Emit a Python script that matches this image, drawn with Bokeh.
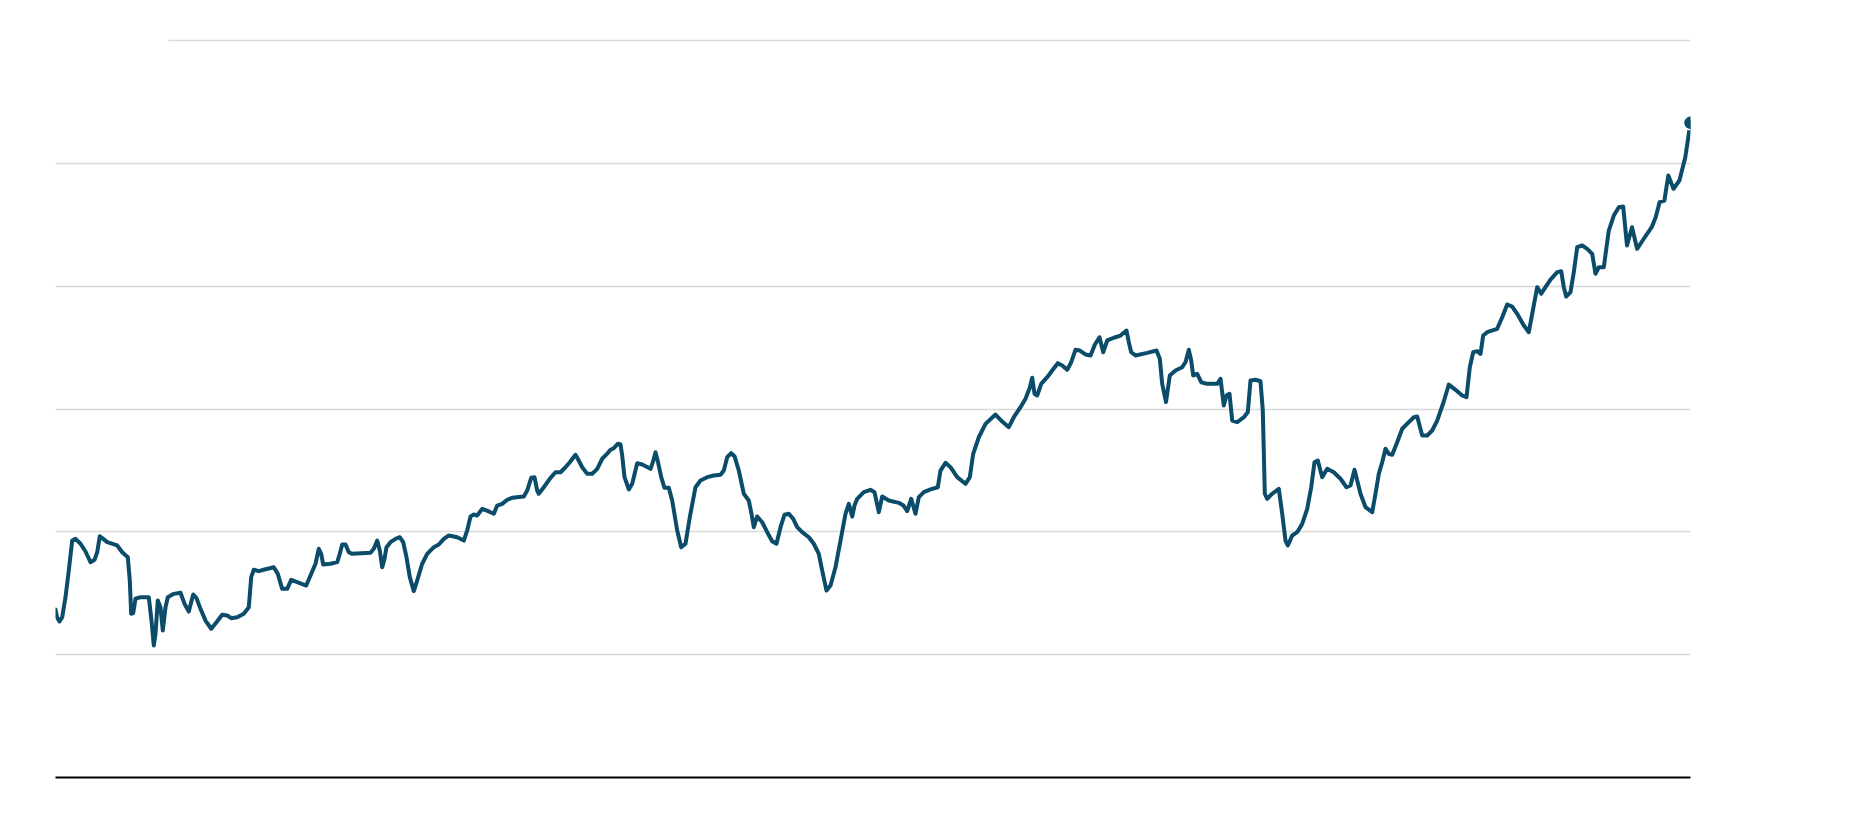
from bokeh.plotting import figure
from bokeh.models import Range1d, FixedTicker, ColumnDataSource
from bokeh.embed import file_html
from bokeh.resources import INLINE

# period index (time axis, no labels shown in the reference)
period = [0, 1.5, 4, 6.7, 10, 13.3, 16.7, 20, 25, 30, 35, 39, 41.7, 44.3, 47.7, 51.7, 61.7, 66.7, 72.3, 74.3,
          75.7, 77.7, 80, 85, 93.3, 96, 98.3, 100, 102.3, 105, 107.3, 110, 112.3, 118.3, 125, 129, 133.3, 137.7, 141, 145,
          150, 155.7, 161, 166.7, 171.7, 175.7, 181.7, 188.3, 193.3, 195.7, 198.3, 203.3, 209, 218.3, 222.3, 226.7, 231.7, 235.7, 241.7, 250.7,
          255, 260, 263.3, 265.7, 267.7, 275, 281.7, 284.3, 286.7, 290, 293.3, 296.7, 315, 318.3, 321.7, 324.3, 326.7, 329, 331, 335,
          340, 344.3, 347.7, 351, 354.3, 358.3, 361.7, 366.7, 371.7, 378.3, 383.3, 388.3, 393.3, 401.7, 408.3, 411.7, 415, 418.3, 421.7, 426.7,
          433.3, 438.3, 441.7, 446.7, 451.7, 456.7, 468.3, 471.7, 475.7, 479, 481.7, 483.3, 488.3, 495, 500, 505, 510, 514.3, 520, 522.3,
          526.7, 531.7, 536.7, 541.7, 546.7, 551, 555, 558.3, 562.3, 565, 566.7, 569, 573.3, 576.7, 581.7, 586.7, 595, 597.7, 600, 602.3,
          605.7, 609, 613.3, 616.7, 621.7, 625.7, 630, 634.3, 640, 645, 651.7, 658.3, 665, 668.3, 671.7, 675.7, 679, 683.3, 688.3, 693.3,
          696, 698.3, 701.7, 706.7, 711.7, 716.7, 721, 725, 729, 733.3, 737.7, 741.7, 746.7, 753.3, 758.3, 763.3, 766.7, 771, 775, 780,
          785, 790, 793.3, 796.7, 799, 801.7, 808.3, 815, 819, 823.3, 826.7, 833.3, 843.3, 848, 851.7, 855.7, 860, 863.3, 868.3, 875,
          882.3, 885, 890, 895, 901.7, 910, 914.3, 917.7, 923.3, 930, 940, 946.7, 953.3, 958.3, 965, 970, 974.3, 976.7, 979, 981.7,
          985.7, 991.7, 996.7, 1002.3, 1006.7, 1011.7, 1015.7, 1020, 1024.3, 1030, 1035, 1039.3, 1044, 1047.7, 1051.7, 1058.3, 1065, 1071, 1073.3, 1075.7,
          1080, 1091.7, 1101, 1104.3, 1106.7, 1110.5, 1114.3, 1120, 1126.7, 1130, 1133.3, 1135.7, 1137.7, 1141.7, 1145.7, 1151.7, 1161.7, 1165, 1168.3, 1171,
          1174, 1176.7, 1181.7, 1188.3, 1192.3, 1195, 1200, 1205, 1207.3, 1209.3, 1211.7, 1216.7, 1223.3, 1226.7, 1230, 1232.3, 1236.7, 1241.7, 1246.7, 1251.7,
          1255.7, 1259, 1262.3, 1266.7, 1271.7, 1278.3, 1285, 1291, 1295, 1299, 1301.7, 1305, 1310, 1316.7, 1320, 1323.3, 1326.7, 1330, 1333.3, 1336.7,
          1341.7, 1346.7, 1353.3, 1358.3, 1361.7, 1366.7, 1371.7, 1376.7, 1381.7, 1388.3, 1393.3, 1400, 1406.7, 1411, 1414.3, 1417.7, 1421.7, 1425, 1427.7, 1431.7,
          1441.7, 1446.7, 1451.7, 1456.7, 1461.7, 1468.3, 1473.3, 1476.7, 1481.7, 1485.7, 1490, 1495, 1501.7, 1505.7, 1508.3, 1510.7, 1515, 1518.3, 1521.7, 1526.7,
          1531.7, 1536.7, 1540, 1543.3, 1548.3, 1551, 1553.3, 1558.3, 1563.3, 1567.7, 1571.5, 1576.5, 1581.6, 1588.3, 1596.2, 1600.2, 1604.1, 1608.9, 1612.8, 1618,
          1623.9, 1629.8, 1633.8, 1635]

values = [136.8, 130.5, 127.0, 130.5, 146.8, 168.5, 192.9, 194.3, 190.3, 184.0, 175.3, 177.2, 183.4, 196.4, 194.3, 191.6, 188.9, 183.4, 179.3, 160.4,
          133.3, 133.8, 145.5, 146.8, 146.8, 127.8, 107.5, 117.0, 144.1, 138.6, 119.7, 138.6, 146.8, 149.5, 150.4, 141.4, 135.1, 149.0, 146.0, 137.3,
          127.8, 121.1, 126.4, 132.5, 131.9, 129.7, 130.5, 133.3, 138.6, 163.1, 169.1, 168.0, 169.3, 171.2, 165.8, 153.6, 153.6, 160.9, 159.0, 156.3,
          164.4, 174.0, 186.2, 182.1, 173.4, 174.0, 175.3, 182.1, 189.7, 189.7, 183.4, 182.1, 182.9, 186.2, 192.9, 184.8, 171.2, 178.0, 187.5, 191.6,
          194.3, 195.6, 191.6, 179.3, 163.1, 151.7, 160.4, 174.0, 182.1, 187.5, 189.7, 194.3, 197.0, 195.6, 192.9, 201.1, 212.5, 214.1, 213.3, 218.7,
          216.6, 214.7, 221.4, 222.8, 226.1, 227.7, 228.8, 233.6, 244.0, 244.5, 233.6, 231.0, 236.3, 244.0, 248.5, 248.5, 252.6, 256.7, 262.7, 259.5,
          252.6, 247.2, 247.2, 251.3, 259.5, 263.0, 266.8, 268.1, 271.7, 271.1, 262.1, 244.5, 234.5, 239.1, 255.9, 254.8, 251.3, 257.5, 264.8, 257.5,
          244.5, 235.8, 235.8, 225.5, 201.1, 187.5, 190.3, 211.9, 236.3, 241.8, 244.5, 245.9, 246.4, 249.9, 260.8, 264.0, 261.6, 249.9, 231.0, 225.5,
          214.7, 203.8, 212.5, 207.8, 199.7, 192.4, 190.3, 203.8, 213.9, 214.7, 210.6, 203.8, 199.7, 195.6, 190.3, 182.1, 168.5, 152.2, 156.3, 171.2,
          192.9, 214.7, 222.8, 212.5, 221.4, 226.9, 232.3, 234.2, 232.3, 216.0, 228.8, 225.5, 223.6, 221.4, 216.8, 226.9, 214.7, 228.2, 232.3, 234.5,
          236.3, 249.9, 256.2, 252.6, 244.5, 239.1, 244.5, 263.5, 277.0, 287.9, 295.5, 289.8, 285.2, 293.3, 301.5, 308.3, 317.3, 325.4, 312.4, 311.0,
          320.5, 325.9, 331.3, 337.3, 335.4, 331.9, 338.1, 348.2, 347.6, 344.4, 343.6, 352.3, 358.4, 346.2, 355.8, 358.0, 359.8, 363.9, 354.4, 346.2,
          343.6, 345.7, 347.6, 340.9, 320.5, 305.7, 327.3, 331.3, 334.0, 338.1, 348.2, 339.5, 327.3, 328.6, 321.8, 320.5, 320.5, 324.6, 302.8, 311.0,
          312.4, 290.6, 289.3, 293.3, 297.4, 323.2, 323.8, 322.6, 298.8, 231.0, 226.9, 231.0, 235.0, 214.7, 192.9, 188.9, 197.0, 199.7, 206.5, 218.7,
          236.3, 256.7, 258.1, 244.5, 251.3, 248.5, 243.2, 236.3, 237.7, 250.5, 241.8, 231.0, 220.1, 216.0, 231.0, 247.2, 256.7, 267.6, 263.5, 262.7,
          273.0, 283.9, 289.3, 293.3, 293.9, 278.4, 278.4, 282.5, 290.6, 306.1, 319.9, 315.6, 311.0, 309.6, 334.0, 346.2, 347.1, 344.9, 359.8, 362.5,
          365.3, 374.7, 385.1, 383.4, 377.5, 368.0, 362.5, 377.5, 399.2, 393.8, 399.2, 405.4, 411.4, 412.2, 399.2, 391.6, 395.1, 411.4, 431.7, 433.1,
          430.4, 426.3, 410.1, 415.4, 415.4, 431.7, 445.3, 457.5, 464.3, 464.9, 433.1, 448.0, 430.4, 438.6, 448.0, 456.1, 468.4, 469.7, 490.1, 479.3,
          486.0, 505.0, 526.7, 533.0]

grid_values = [100, 200, 300, 400, 500]
top_grid_value = 600
top_grid_start = 113

LINE_COLOR = "#0a4c6a"
GRID_COLOR = "#d9d9d9"

src = ColumnDataSource(data=dict(x=period, y=values))

p = figure(
    frame_width=1635, frame_height=741,
    min_border_left=55, min_border_right=160, min_border_top=36, min_border_bottom=40,
    x_range=Range1d(0, 1635), y_range=Range1d(0, 603.26),
    output_backend="svg", toolbar_location=None,
    background_fill_color="white", border_fill_color="white",
)
p.outline_line_color = None

p.yaxis.visible = False
p.xaxis.axis_line_color = "black"
p.xaxis.axis_line_width = 2
p.xaxis.major_tick_line_color = None
p.xaxis.minor_tick_line_color = None
p.xaxis.major_label_text_font_size = "0px"
p.xaxis.major_label_text_color = None

p.xgrid.visible = False
p.ygrid.ticker = FixedTicker(ticks=grid_values)
p.ygrid.grid_line_color = GRID_COLOR
p.ygrid.grid_line_width = 1.5

p.segment(x0=[top_grid_start], y0=[top_grid_value], x1=[period[-1]], y1=[top_grid_value],
          line_color=GRID_COLOR, line_width=1.5)

p.line("x", "y", source=src, line_color=LINE_COLOR, line_width=4, line_join="round", line_cap="round")
p.scatter(x=[period[-1]], y=[values[-1]], size=14, fill_color=LINE_COLOR,
          line_color="white", line_width=1.5)

open("out.html", "w").write(file_html(p, INLINE))
